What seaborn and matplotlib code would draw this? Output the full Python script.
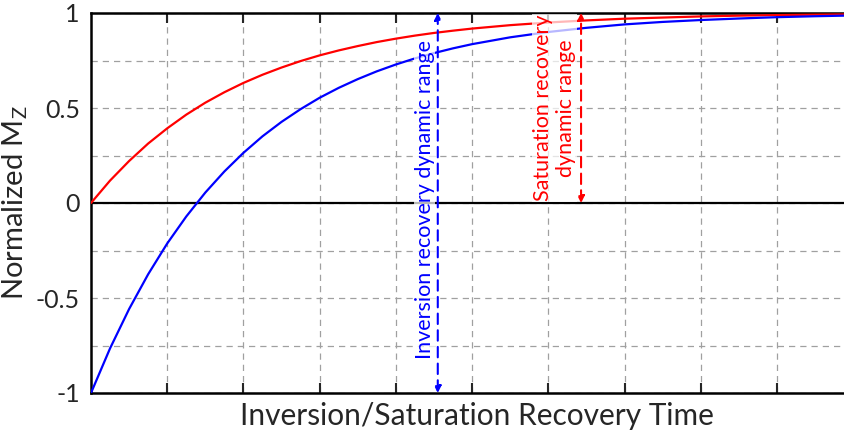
import numpy as np
import pandas as pd
import matplotlib
matplotlib.use("Agg")
import matplotlib.pyplot as plt
import seaborn as sns

# ---- data ----
time = [0, 0.25, 0.5, 0.75, 1.0, 1.25, 1.5, 1.75, 2.0, 2.25, 2.5, 2.75, 3.0, 3.25, 3.5,
        3.75, 4.0, 4.25, 4.5, 4.75, 5.0, 5.5, 6.0, 6.5, 7.0, 7.5, 8.0, 8.5, 9.0, 9.5, 10.0]
saturation_mz = [0, 0.118, 0.221, 0.313, 0.393, 0.465, 0.528, 0.583, 0.632, 0.675, 0.713,
                 0.747, 0.777, 0.803, 0.826, 0.847, 0.865, 0.881, 0.895, 0.907, 0.918,
                 0.936, 0.950, 0.961, 0.970, 0.976, 0.982, 0.986, 0.989, 0.991, 0.993]
inversion_mz = [-1, -0.765, -0.558, -0.375, -0.213, -0.071, 0.055, 0.166, 0.264, 0.351, 0.427,
                0.494, 0.554, 0.606, 0.652, 0.693, 0.729, 0.761, 0.789, 0.814, 0.836,
                0.872, 0.900, 0.922, 0.940, 0.953, 0.963, 0.971, 0.978, 0.983, 0.987]
y_ticks = [-1, -0.5, 0, 0.5, 1]
y_tick_labels = ["-1", "-0.5", "0", "0.5", "1"]
inv_range = (4.55, -1.0, 1.0)   # x, y_from, y_to
sat_range = (6.43, 0.0, 1.0)
inv_label = "Inversion recovery dynamic range"
sat_label = "Saturation recovery\ndynamic range"

df = pd.DataFrame({"t": time, "sat": saturation_mz, "inv": inversion_mz})

sns.set_style("white")
plt.rcParams["font.family"] = ["Lato", "DejaVu Sans"]
plt.rcParams["mathtext.default"] = "regular"

fig = plt.figure(figsize=(8.44, 4.34), dpi=100)
ax = fig.add_axes([91 / 844, 41 / 434, (844 - 91) / 844, 380 / 434])

sns.lineplot(data=df, x="t", y="sat", ax=ax, color="#ff0000", lw=1.6, zorder=3)
sns.lineplot(data=df, x="t", y="inv", ax=ax, color="#0000ff", lw=1.6, zorder=3)

ax.set_xlim(0, 9.88)
ax.set_ylim(-1, 1)
ax.set_xticks(np.arange(1, 10))
ax.set_xticklabels([])
ax.set_yticks(y_ticks)
ax.set_yticklabels(y_tick_labels)
ax.set_yticks([-0.75, -0.25, 0.25, 0.75], minor=True)
ax.grid(True, which="both", color="#a0a0a0", ls=(0, (5, 4)), lw=0.9)
ax.tick_params(axis="x", which="both", direction="in", length=7, width=1.5,
               top=True, bottom=True, labelbottom=False)
ax.tick_params(axis="y", which="major", direction="in", length=8, width=1.5,
               labelsize=18, pad=8)
ax.tick_params(axis="y", which="minor", direction="in", length=8, width=1.5)
for s in ["left", "top", "bottom"]:
    ax.spines[s].set_linewidth(1.8)
    ax.spines[s].set_color("black")
ax.spines["right"].set_visible(False)
ax.axhline(0, color="black", lw=1.6, zorder=2)

ax.set_xlabel("Inversion/Saturation Recovery Time", fontsize=21.5)
ax.xaxis.set_label_coords((477 - 91) / 753, -0.025, transform=ax.transAxes)
ax.xaxis.label.set_va("top")
ax.set_ylabel("Normalized M$_Z$", fontsize=21, labelpad=4)

bbox = dict(facecolor="white", alpha=0.72, edgecolor="none", pad=0.5)
ax.text(4.38, 0.02, inv_label, rotation=90, color="#0000ff", fontsize=15.5,
        ha="center", va="center", bbox=bbox, zorder=4)
ax.text(6.08, 0.5, sat_label, rotation=90, color="#ff0000", fontsize=15.5,
        ha="center", va="center", multialignment="center", linespacing=1.2,
        bbox=bbox, zorder=4)

for (x, y0, y1), c in [(inv_range, "#0000ff"), (sat_range, "#ff0000")]:
    ax.annotate("", xy=(x, y1), xytext=(x, y0),
                arrowprops=dict(arrowstyle="<|-|>", color=c, lw=1.5,
                                linestyle=(0, (5, 3)), mutation_scale=10,
                                shrinkA=0, shrinkB=0),
                zorder=5)

fig.savefig("out.png", dpi=100)
